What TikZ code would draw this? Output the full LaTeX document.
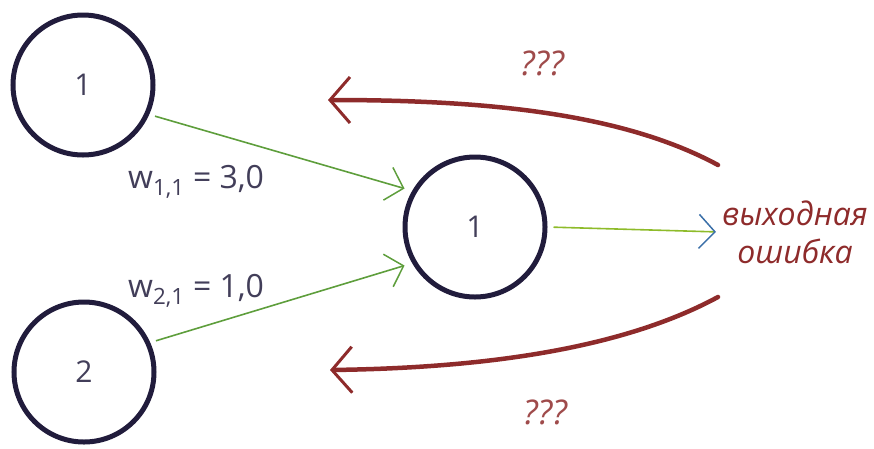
\documentclass[tikz,border=0pt]{standalone}
\usepackage{fontspec}
\setmainfont{Open Sans}
\usetikzlibrary{arrows.meta,calc}
\definecolor{ink}{HTML}{211C3C}
\definecolor{errred}{HTML}{8E2B2B}
\definecolor{wgreen}{HTML}{5E9E3C}
\definecolor{outblue}{HTML}{3A6FA8}
\begin{document}
\begin{tikzpicture}[x=1pt,y=-1pt,
  neuron/.style={circle,draw=ink,line width=5pt,minimum size=140pt,inner sep=0pt,
    font=\fontsize{30}{34}\selectfont,text=ink!85},
  weight/.style={draw=wgreen,line width=1.6pt,
    -{Straight Barb[length=16pt 0,width=34pt 0,line width=1.5pt]},
    shorten >=8pt,shorten <=6pt},
  backprop/.style={draw=errred,line width=4.5pt,line cap=round,
    -{Straight Barb[length=20pt 0,width=46pt 0,line width=3pt]}},
  wlabel/.style={font=\fontsize{32}{36}\selectfont,text=ink!85,inner sep=0pt},
  qlabel/.style={font=\itshape\fontsize{34}{38}\selectfont,text=errred!85},
]
\useasboundingbox (0,0) rectangle (874,448);

% neurons
\node[neuron] (in1) at (83,85) {1};
\node[neuron] (in2) at (84,372) {2};
\node[neuron] (hid) at (475,227) {1};

% output error label
\node[font=\itshape\fontsize{32}{38}\selectfont,text=errred,align=center,inner sep=2pt] (err) at (795,232)
  {выходная\\ошибка};

% weighted links
\draw[weight] (in1.-24) -- (hid.150);
\draw[weight] (in2.24) -- (hid.210);
\draw[weight,draw=wgreen!70!yellow,shorten >=4pt,
  -{Straight Barb[length=16pt 0,width=34pt 0,line width=1.5pt,color=outblue]}]
  (hid.0) -- (err.west);

\node[wlabel,anchor=base west] (w11) at (128,188) {w\textsubscript{1,1} = 3,0};
\node[wlabel,anchor=base west] (w21) at (128,297) {w\textsubscript{2,1} = 1,0};

% error flowing back
\coordinate (upstart) at (718,165);
\coordinate (upend) at (328,100);
\coordinate (lostart) at (718,297);
\coordinate (loend) at (330,370);
\draw[backprop] (upstart) .. controls (620,112) and (480,100) .. (upend);
\draw[backprop] (lostart) .. controls (620,350) and (480,368) .. (loend);

\node[qlabel] (q1) at (542,63) {???};
\node[qlabel] (q2) at (545,412) {???};
\end{tikzpicture}
\end{document}
